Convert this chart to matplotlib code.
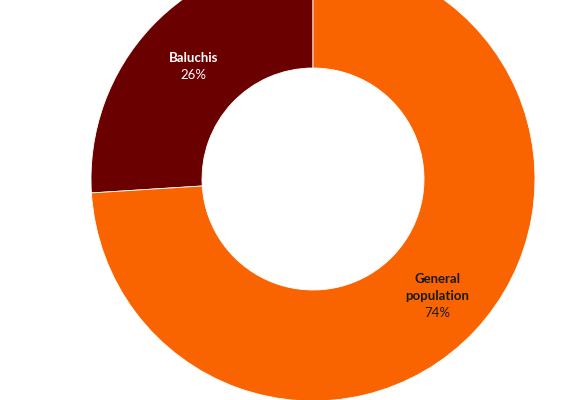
import numpy as np
import matplotlib
matplotlib.use("Agg")
import matplotlib.pyplot as plt

plt.rcParams['font.family'] = ['Lato', 'DejaVu Sans']

labels = [["Baluchis"], ["General", "population"]]
shares = [26, 74]
colors = ["#6b0000", "#f96400"]
text_colors = ["white", "#1a1a1a"]
label_radius = [0.74, 0.77]

fig = plt.figure(figsize=(5.7, 4.0), dpi=100)
ax = fig.add_axes([0, 0, 1, 1])

wedges, _ = ax.pie(shares, colors=colors, startangle=90, counterclock=True,
                   radius=1.0,
                   wedgeprops=dict(width=0.5, edgecolor="white", linewidth=0.6))

scale = 222.0
step = 17 / scale  # line height
for w, name, pct, tc, r in zip(wedges, labels, shares, text_colors, label_radius):
    mid = np.deg2rad((w.theta1 + w.theta2) / 2)
    x, y = r * np.cos(mid), r * np.sin(mid)
    lines = name + [f"{pct}%"]
    top = y + step * (len(lines) - 1) / 2
    for i, line in enumerate(lines):
        bold = i < len(name)
        ax.text(x, top - i * step, line, ha="center", va="center",
                fontsize=9.5, fontweight="bold" if bold else "normal",
                color=tc)

ax.set_aspect("auto")
cx, cy = 313, 179
ax.set_xlim(-cx / scale, (570 - cx) / scale)
ax.set_ylim(-(400 - cy) / scale, cy / scale)
ax.axis("off")

fig.savefig("out.png", dpi=100, facecolor="white")
